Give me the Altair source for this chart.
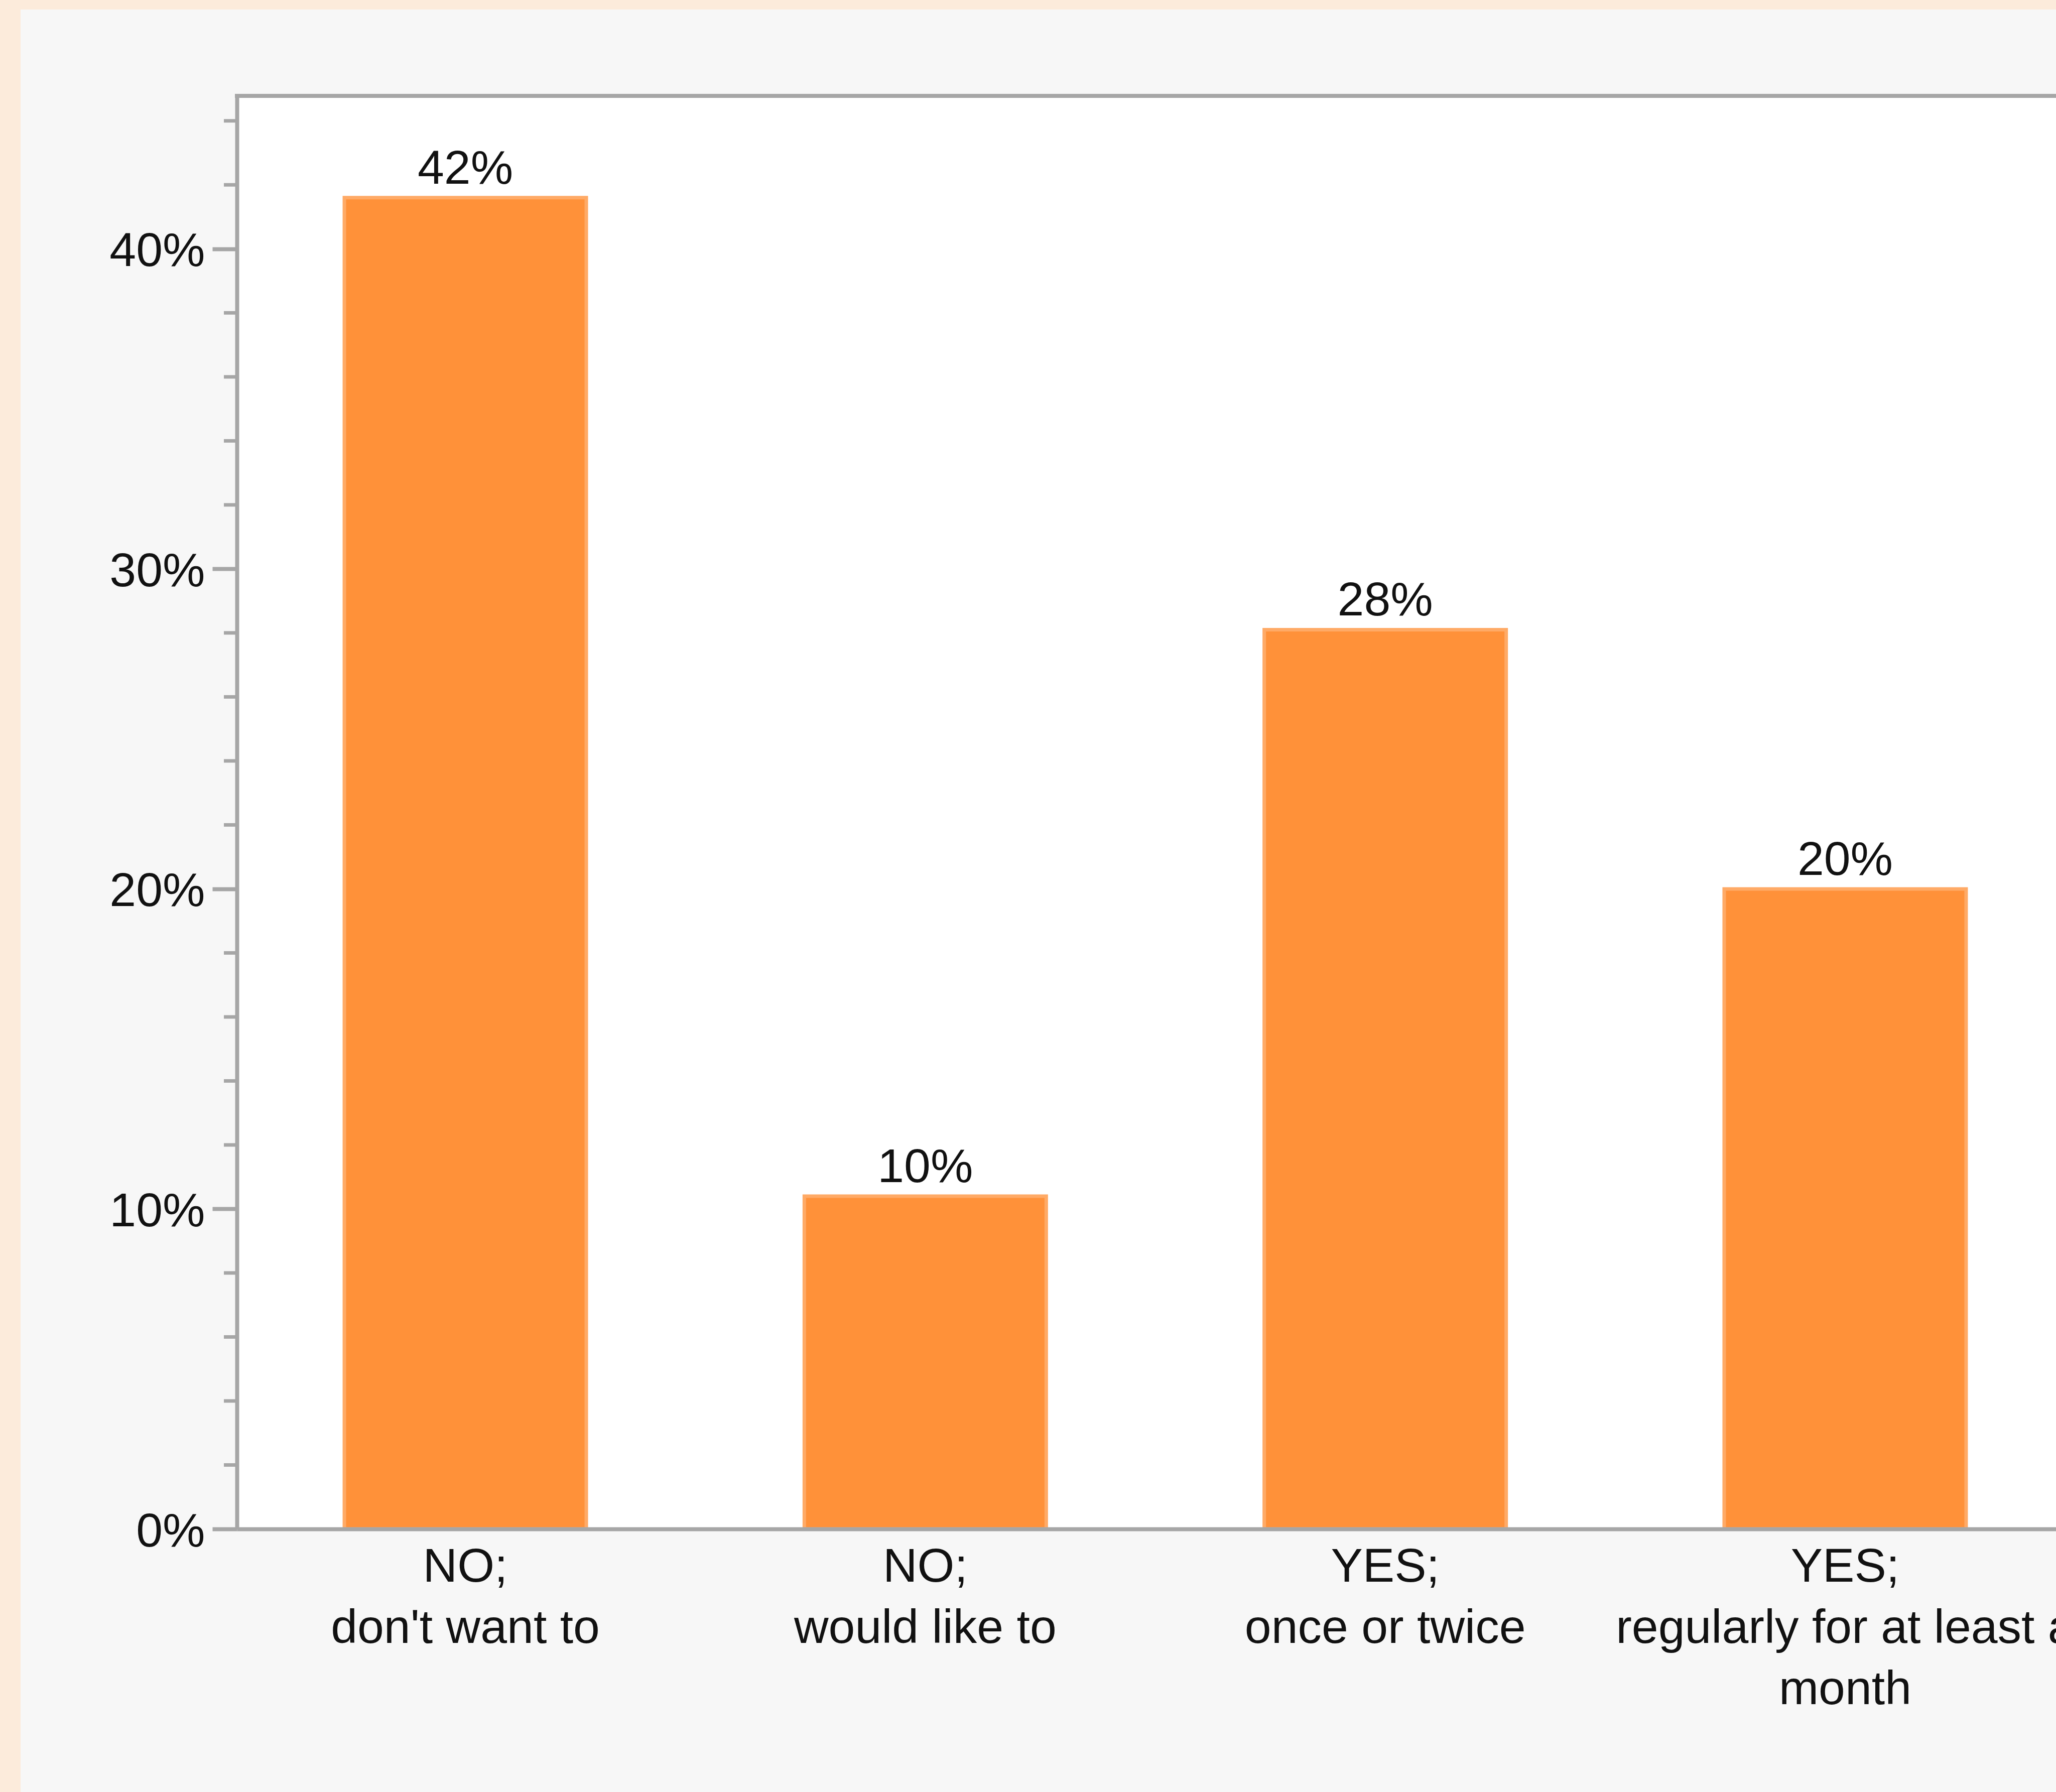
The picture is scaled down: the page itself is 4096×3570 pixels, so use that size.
import altair as alt
import pandas as pd

# Survey answers and the share of respondents giving each one
categories = [
    "NO;\ndon't want to",
    "NO;\nwould like to",
    "YES;\nonce or twice",
    "YES;\nregularly for at least a\nmonth",
]
shares = [0.416, 0.104, 0.281, 0.200]

# Y-axis tick positions
major_ticks = [0.0, 0.1, 0.2, 0.3, 0.4]
minor_ticks = [0.02, 0.04, 0.06, 0.08, 0.12, 0.14, 0.16, 0.18, 0.22, 0.24,
               0.26, 0.28, 0.32, 0.34, 0.36, 0.38, 0.42, 0.44]

W, H = 3564, 2855          # plot area
PAD_L, PAD_T = 472, 191
PAD_R = 60
PAD_B = 3570 - PAD_T - H

FONT = "Liberation Sans"
FS = 95
INK = "#111111"
LINE = "#A6A6A6"
ORANGE = "#FF9139"
EDGE = "#FFAA66"
BEIGE = "#FCEBDB"
PANEL = "#F7F7F7"

bars_df = pd.DataFrame({"answer": categories, "share": shares})
minor_df = pd.DataFrame({"share": minor_ticks})
one = pd.DataFrame({"k": [0]})

y_scale = alt.Scale(domain=[0, 0.4478], nice=False, zero=True)
x_scale = alt.Scale(domain=categories, range=[0, 3659],
                    paddingInner=0.474, paddingOuter=0.2336)

x_axis = alt.Axis(
    title=None,
    labelExpr="split(datum.label, '\\n')",
    ticks=False,
    tickSize=0,
    labelAngle=0,
    labelPadding=29,
    labelBaseline="top",
    labelLineHeight=122,
    labelFont=FONT,
    labelFontSize=FS,
    labelColor=INK,
    labelLimit=0,
    domainColor=LINE,
    domainWidth=8,
    grid=False,
    zindex=1,
)

y_axis = alt.Axis(
    title=None,
    values=major_ticks,
    format=".0%",
    tickSize=49,
    tickWidth=8,
    tickColor=LINE,
    domainColor=LINE,
    domainWidth=8,
    labelPadding=15,
    labelOffset=5,
    labelFont=FONT,
    labelFontSize=FS,
    labelColor=INK,
    labelLimit=0,
    labelOverlap=False,
    grid=False,
    zindex=1,
)

x_enc = alt.X("answer:N", scale=x_scale, axis=x_axis)
y_enc = alt.Y("share:Q", scale=y_scale, axis=y_axis)

# Beige margin around the grey panel
left_strip = alt.Chart(one).mark_rect(color=BEIGE).encode(
    x=alt.value(-PAD_L), x2=alt.value(-431),
    y=alt.value(-PAD_T), y2=alt.value(H + PAD_B),
)
top_strip = alt.Chart(one).mark_rect(color=BEIGE).encode(
    x=alt.value(-PAD_L), x2=alt.value(W + PAD_R + 10),
    y=alt.value(-PAD_T), y2=alt.value(-172),
)

# White plot area continuing to the right edge
plot_tail = alt.Chart(one).mark_rect(color="white").encode(
    x=alt.value(W - 2), x2=alt.value(W + PAD_R + 10),
    y=alt.value(0), y2=alt.value(H),
)

# Upper border of the plot frame
top_border = alt.Chart(one).mark_rule(color=LINE, strokeWidth=8).encode(
    x=alt.value(-4), x2=alt.value(W + PAD_R + 10), y=alt.value(0),
)

# Short minor ticks every 2 %
minor = alt.Chart(minor_df).mark_rule(color=LINE, strokeWidth=7).encode(
    y=y_enc,
    x=alt.value(-26),
    x2=alt.value(0),
)

bars = alt.Chart(bars_df).mark_bar(
    color=ORANGE, stroke=EDGE, strokeWidth=7
).encode(x=x_enc, y=y_enc)

values = alt.Chart(bars_df).mark_text(
    baseline="alphabetic", align="center", dy=-28,
    font=FONT, fontSize=FS, color=INK,
).encode(
    x=x_enc,
    y=y_enc,
    text=alt.Text("share:Q", format=".0%"),
)

chart = alt.layer(
    left_strip, top_strip, plot_tail, bars, minor, values, top_border
).properties(
    width=W,
    height=H,
    padding={"left": PAD_L, "top": PAD_T, "right": PAD_R, "bottom": PAD_B},
    autosize=alt.AutoSizeParams(type="none"),
    background=PANEL,
).configure_view(
    fill="white", stroke="transparent", strokeWidth=0, strokeOpacity=0
)

chart.save("out.html", embed_options={"renderer": "svg", "actions": False})
